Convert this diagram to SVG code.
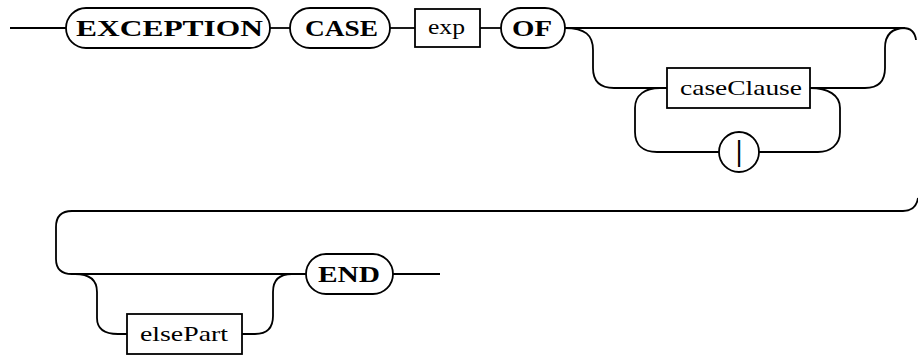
<svg xmlns="http://www.w3.org/2000/svg" width="918" height="358" viewBox="0 0 918 358">
<style>
.bg{fill:#fff}
.sh{fill:#fff;stroke:#000;stroke-width:1.8}
.ln{fill:none;stroke:#000;stroke-width:1.8}
.kw{font-family:"Liberation Serif","Times New Roman",serif;font-weight:bold;font-size:24px;fill:#000}
.nt{font-family:"Liberation Serif","Times New Roman",serif;font-size:22px;fill:#000}
</style>
<rect class="bg" x="0" y="0" width="918" height="358"/>
<g id="connectors">
<path class="ln" d="M10,28 H66"/>
<path class="ln" d="M270,28 H290"/>
<path class="ln" d="M390,28 H415"/>
<path class="ln" d="M480,28 H501"/>
<path class="ln" d="M565,28 H903 C911,28 915,32 916,40"/>
<path class="ln" d="M565,28 C585,28 593,35 593,50 V68 C593,82 600,88 614,88 H667"/>
<path class="ln" d="M810,88 H865 C878,88 885,82 885,68 V48 C885,34 893,28 905,28"/>
<path class="ln" d="M810,88 C828,88 840,95 840,108 V132 C840,145 830,152 818,152 H759"/>
<path class="ln" d="M719,152 H657 C643,152 635,145 635,132 V108 C635,95 645,88 660,88"/>
<path class="ln" d="M918,198 Q916,211 903,211 H72 Q56,211 56,227 V259 Q56,274 72,274 H306"/>
<path class="ln" d="M75,274 C90,274 97,280 97,292 V318 C97,330 105,334 118,334 H127"/>
<path class="ln" d="M242,334 H255 C267,334 273,328 273,316 V292 C273,280 280,274 292,274"/>
<path class="ln" d="M393,274 H440"/>
</g>
<g id="n-exception"><rect class="sh" x="66" y="8" width="204" height="40" rx="20"/><text class="kw" x="76" y="36" textLength="187" lengthAdjust="spacingAndGlyphs">EXCEPTION</text></g>
<g id="n-case"><rect class="sh" x="290" y="8" width="100" height="40" rx="20"/><text class="kw" x="305" y="36" textLength="73" lengthAdjust="spacingAndGlyphs">CASE</text></g>
<g id="n-exp"><rect class="sh" x="415" y="9" width="65" height="38"/><text class="nt" x="428" y="34" textLength="37" lengthAdjust="spacingAndGlyphs">exp</text></g>
<g id="n-of"><rect class="sh" x="501" y="8" width="64" height="40" rx="20"/><text class="kw" x="512" y="36" textLength="40" lengthAdjust="spacingAndGlyphs">OF</text></g>
<g id="n-caseclause"><rect class="sh" x="667" y="68" width="143" height="40"/><text class="nt" x="680" y="95" textLength="122" lengthAdjust="spacingAndGlyphs">caseClause</text></g>
<g id="n-bar"><circle class="sh" cx="739" cy="152" r="20"/><text class="nt" x="739" y="161" text-anchor="middle" style="font-size:30px;font-weight:bold">|</text></g>
<g id="n-elsepart"><rect class="sh" x="127" y="314" width="115" height="40"/><text class="nt" x="140" y="341" textLength="88" lengthAdjust="spacingAndGlyphs">elsePart</text></g>
<g id="n-end"><rect class="sh" x="306" y="254" width="87" height="40" rx="20"/><text class="kw" x="318" y="282" textLength="62" lengthAdjust="spacingAndGlyphs">END</text></g>
</svg>
